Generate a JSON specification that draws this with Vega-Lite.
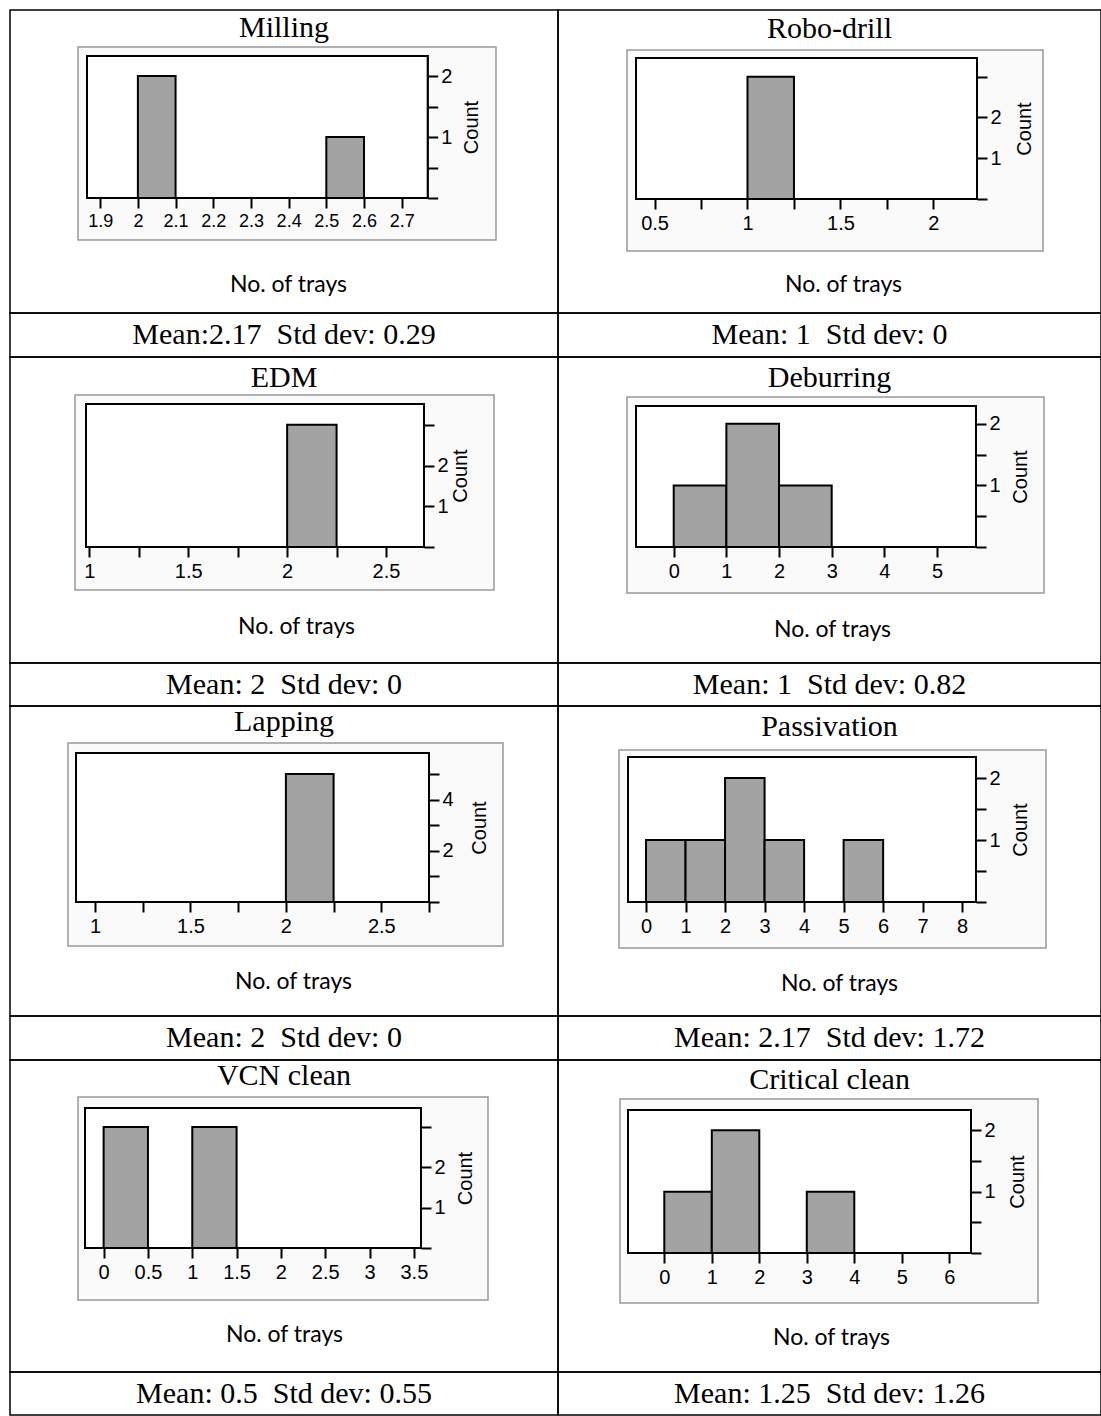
{
"$schema": "https://vega.github.io/schema/vega-lite/v6.json",
"padding": {"left": 9, "top": 9, "right": 0, "bottom": 0},
"background": "white",
"datasets": {
"bins": [
 {"panel":"Milling","lo":2,"hi":2.1,"count":2},
 {"panel":"Milling","lo":2.5,"hi":2.6,"count":1},
 {"panel":"Robo-drill","lo":1,"hi":1.25,"count":3},
 {"panel":"EDM","lo":2,"hi":2.25,"count":3},
 {"panel":"Deburring","lo":0,"hi":1,"count":1},
 {"panel":"Deburring","lo":1,"hi":2,"count":2},
 {"panel":"Deburring","lo":2,"hi":3,"count":1},
 {"panel":"Lapping","lo":2,"hi":2.25,"count":5},
 {"panel":"Passivation","lo":0,"hi":1,"count":1},
 {"panel":"Passivation","lo":1,"hi":2,"count":1},
 {"panel":"Passivation","lo":2,"hi":3,"count":2},
 {"panel":"Passivation","lo":3,"hi":4,"count":1},
 {"panel":"Passivation","lo":5,"hi":6,"count":1},
 {"panel":"VCN clean","lo":0,"hi":0.5,"count":3},
 {"panel":"VCN clean","lo":1,"hi":1.5,"count":3},
 {"panel":"Critical clean","lo":0,"hi":1,"count":1},
 {"panel":"Critical clean","lo":1,"hi":2,"count":2},
 {"panel":"Critical clean","lo":3,"hi":4,"count":1}
],
"stats": [
 {"panel":"Milling","stats":"Mean:2.17\u00a0 Std dev: 0.29"},
 {"panel":"Robo-drill","stats":"Mean: 1\u00a0 Std dev: 0"},
 {"panel":"EDM","stats":"Mean: 2\u00a0 Std dev: 0"},
 {"panel":"Deburring","stats":"Mean: 1\u00a0 Std dev: 0.82"},
 {"panel":"Lapping","stats":"Mean: 2\u00a0 Std dev: 0"},
 {"panel":"Passivation","stats":"Mean: 2.17\u00a0 Std dev: 1.72"},
 {"panel":"VCN clean","stats":"Mean: 0.5\u00a0 Std dev: 0.55"},
 {"panel":"Critical clean","stats":"Mean: 1.25\u00a0 Std dev: 1.26"}
]
},
"concat": [
   {"width":548,"height":303,"title":{"text":"Milling","offset":-33},
    "layer":[
     {"data":{"values":[{"part":"frame"}]},"mark":{"type":"rect","fill":"#fafafa","stroke":"#999999","strokeWidth":1.5},
      "encoding":{"x":{"datum":0,"type":"quantitative","scale":{"domain":[0,1],"range":[68,486]},"axis":null},"x2":{"datum":1},
       "y":{"datum":0,"type":"quantitative","scale":{"domain":[0,1],"range":[230,37]},"axis":null},"y2":{"datum":1}}},
     {"data":{"name":"bins"},"transform":[{"filter":"datum.panel == 'Milling'"}],
      "layer":[
       {"mark":{"type":"rect","fill":"white","stroke":"black","strokeWidth":2},
        "encoding":{"x":{"datum":1.865,"type":"quantitative"},"x2":{"datum":2.769},"y":{"datum":0,"type":"quantitative"},"y2":{"datum":2.33}}},
       {"mark":{"type":"bar","fill":"#a3a3a3","stroke":"black","strokeWidth":2},
        "encoding":{
         "x":{"field":"lo","type":"quantitative","scale":{"domain":[1.865,2.769],"range":[77,417.7],"nice":false,"zero":false},
          "axis":{"zindex":1,"orient":"bottom","offset":-115,"values":[1.9,2,2.1,2.2,2.3,2.4,2.5,2.6,2.7],"format":"~g","labelFontSize":18,"title":"No. of trays","titleX":278,"titleY":86}},
         "x2":{"field":"hi"},
         "y":{"field":"count","type":"quantitative","scale":{"domain":[0,2.33],"range":[188,46],"nice":false},
          "axis":{"zindex":1,"orient":"right","offset":-130.3,"values":[0,0.5,1,1.5,2],"format":"~g","labelExpr":"datum.value == 1 || datum.value == 2 ? datum.label : ''","title":"Count","titleX":44}},
         "y2":{"datum":0}}}
      ]}
    ],
    "resolve":{"scale":{"x":"independent","y":"independent"}}},
   {"width":543,"height":303,"title":{"text":"Robo-drill","offset":-34},
    "layer":[
     {"data":{"values":[{"part":"frame"}]},"mark":{"type":"rect","fill":"#fafafa","stroke":"#999999","strokeWidth":1.5},
      "encoding":{"x":{"datum":0,"type":"quantitative","scale":{"domain":[0,1],"range":[69,485]},"axis":null},"x2":{"datum":1},
       "y":{"datum":0,"type":"quantitative","scale":{"domain":[0,1],"range":[241,40]},"axis":null},"y2":{"datum":1}}},
     {"data":{"name":"bins"},"transform":[{"filter":"datum.panel == 'Robo-drill'"}],
      "layer":[
       {"mark":{"type":"rect","fill":"white","stroke":"black","strokeWidth":2},
        "encoding":{"x":{"datum":0.4,"type":"quantitative"},"x2":{"datum":2.235},"y":{"datum":0,"type":"quantitative"},"y2":{"datum":3.46}}},
       {"mark":{"type":"bar","fill":"#a3a3a3","stroke":"black","strokeWidth":2},
        "encoding":{
         "x":{"field":"lo","type":"quantitative","scale":{"domain":[0.4,2.235],"range":[78,419],"nice":false,"zero":false},
          "axis":{"zindex":1,"orient":"bottom","offset":-114,"values":[0.5,0.75,1,1.25,1.5,1.75,2],"format":"~g","labelExpr":"datum.value % 0.5 == 0 ? datum.label : ''","title":"No. of trays","titleX":285,"titleY":85}},
         "x2":{"field":"hi"},
         "y":{"field":"count","type":"quantitative","scale":{"domain":[0,3.46],"range":[189,48],"nice":false},
          "axis":{"zindex":1,"orient":"right","offset":-124,"values":[0,1,2,3],"format":"~g","labelExpr":"datum.value == 1 || datum.value == 2 ? datum.label : ''","title":"Count","titleX":47}},
         "y2":{"datum":0}}}
      ]}
    ],
    "resolve":{"scale":{"x":"independent","y":"independent"}}},
   {"width":548,"height":44,"data":{"name":"stats"},"transform":[{"filter":"datum.panel == 'Milling'"}],"mark":{"type":"text"},
    "encoding":{"x":{"datum":0.5,"type":"quantitative","scale":{"domain":[0,1]},"axis":null},"y":{"datum":0.5,"type":"quantitative","scale":{"domain":[0,1]},"axis":null},"text":{"field":"stats"}}},
   {"width":543,"height":44,"data":{"name":"stats"},"transform":[{"filter":"datum.panel == 'Robo-drill'"}],"mark":{"type":"text"},
    "encoding":{"x":{"datum":0.5,"type":"quantitative","scale":{"domain":[0,1]},"axis":null},"y":{"datum":0.5,"type":"quantitative","scale":{"domain":[0,1]},"axis":null},"text":{"field":"stats"}}},
   {"width":548,"height":306,"title":{"text":"EDM","offset":-36},
    "layer":[
     {"data":{"values":[{"part":"frame"}]},"mark":{"type":"rect","fill":"#fafafa","stroke":"#999999","strokeWidth":1.5},
      "encoding":{"x":{"datum":0,"type":"quantitative","scale":{"domain":[0,1],"range":[65,484]},"axis":null},"x2":{"datum":1},
       "y":{"datum":0,"type":"quantitative","scale":{"domain":[0,1],"range":[233,38]},"axis":null},"y2":{"datum":1}}},
     {"data":{"name":"bins"},"transform":[{"filter":"datum.panel == 'EDM'"}],
      "layer":[
       {"mark":{"type":"rect","fill":"white","stroke":"black","strokeWidth":2},
        "encoding":{"x":{"datum":0.983,"type":"quantitative"},"x2":{"datum":2.692},"y":{"datum":0,"type":"quantitative"},"y2":{"datum":3.51}}},
       {"mark":{"type":"bar","fill":"#a3a3a3","stroke":"black","strokeWidth":2},
        "encoding":{
         "x":{"field":"lo","type":"quantitative","scale":{"domain":[0.983,2.692],"range":[76,414],"nice":false,"zero":false},
          "axis":{"zindex":1,"orient":"bottom","offset":-116,"values":[1,1.25,1.5,1.75,2,2.25,2.5],"format":"~g","labelExpr":"datum.value % 0.5 == 0 ? datum.label : ''","title":"No. of trays","titleX":286,"titleY":79}},
         "x2":{"field":"hi"},
         "y":{"field":"count","type":"quantitative","scale":{"domain":[0,3.51],"range":[190,47],"nice":false},
          "axis":{"zindex":1,"orient":"right","offset":-134,"values":[0,1,2,3],"format":"~g","labelExpr":"datum.value == 1 || datum.value == 2 ? datum.label : ''","title":"Count","titleX":36}},
         "y2":{"datum":0}}}
      ]}
    ],
    "resolve":{"scale":{"x":"independent","y":"independent"}}},
   {"width":543,"height":306,"title":{"text":"Deburring","offset":-36},
    "layer":[
     {"data":{"values":[{"part":"frame"}]},"mark":{"type":"rect","fill":"#fafafa","stroke":"#999999","strokeWidth":1.5},
      "encoding":{"x":{"datum":0,"type":"quantitative","scale":{"domain":[0,1],"range":[69,486]},"axis":null},"x2":{"datum":1},
       "y":{"datum":0,"type":"quantitative","scale":{"domain":[0,1],"range":[236,40]},"axis":null},"y2":{"datum":1}}},
     {"data":{"name":"bins"},"transform":[{"filter":"datum.panel == 'Deburring'"}],
      "layer":[
       {"mark":{"type":"rect","fill":"white","stroke":"black","strokeWidth":2},
        "encoding":{"x":{"datum":-0.716,"type":"quantitative"},"x2":{"datum":5.74},"y":{"datum":0,"type":"quantitative"},"y2":{"datum":2.29}}},
       {"mark":{"type":"bar","fill":"#a3a3a3","stroke":"black","strokeWidth":2},
        "encoding":{
         "x":{"field":"lo","type":"quantitative","scale":{"domain":[-0.716,5.74],"range":[78,418],"nice":false,"zero":false},
          "axis":{"zindex":1,"orient":"bottom","offset":-116,"values":[0,1,2,3,4,5],"format":"~g","title":"No. of trays","titleX":274,"titleY":82}},
         "x2":{"field":"hi"},
         "y":{"field":"count","type":"quantitative","scale":{"domain":[0,2.29],"range":[190,49],"nice":false},
          "axis":{"zindex":1,"orient":"right","offset":-125,"values":[0,0.5,1,1.5,2],"format":"~g","labelExpr":"datum.value == 1 || datum.value == 2 ? datum.label : ''","title":"Count","titleX":44}},
         "y2":{"datum":0}}}
      ]}
    ],
    "resolve":{"scale":{"x":"independent","y":"independent"}}},
   {"width":548,"height":43,"data":{"name":"stats"},"transform":[{"filter":"datum.panel == 'EDM'"}],"mark":{"type":"text"},
    "encoding":{"x":{"datum":0.5,"type":"quantitative","scale":{"domain":[0,1]},"axis":null},"y":{"datum":0.5,"type":"quantitative","scale":{"domain":[0,1]},"axis":null},"text":{"field":"stats"}}},
   {"width":543,"height":43,"data":{"name":"stats"},"transform":[{"filter":"datum.panel == 'Deburring'"}],"mark":{"type":"text"},
    "encoding":{"x":{"datum":0.5,"type":"quantitative","scale":{"domain":[0,1]},"axis":null},"y":{"datum":0.5,"type":"quantitative","scale":{"domain":[0,1]},"axis":null},"text":{"field":"stats"}}},
   {"width":548,"height":310,"title":{"text":"Lapping","offset":-31},
    "layer":[
     {"data":{"values":[{"part":"frame"}]},"mark":{"type":"rect","fill":"#fafafa","stroke":"#999999","strokeWidth":1.5},
      "encoding":{"x":{"datum":0,"type":"quantitative","scale":{"domain":[0,1],"range":[58,493]},"axis":null},"x2":{"datum":1},
       "y":{"datum":0,"type":"quantitative","scale":{"domain":[0,1],"range":[240,37]},"axis":null},"y2":{"datum":1}}},
     {"data":{"name":"bins"},"transform":[{"filter":"datum.panel == 'Lapping'"}],
      "layer":[
       {"mark":{"type":"rect","fill":"white","stroke":"black","strokeWidth":2},
        "encoding":{"x":{"datum":0.9,"type":"quantitative"},"x2":{"datum":2.75},"y":{"datum":0,"type":"quantitative"},"y2":{"datum":5.82}}},
       {"mark":{"type":"bar","fill":"#a3a3a3","stroke":"black","strokeWidth":2},
        "encoding":{
         "x":{"field":"lo","type":"quantitative","scale":{"domain":[0.9,2.75],"range":[66,419],"nice":false,"zero":false},
          "axis":{"zindex":1,"orient":"bottom","offset":-114,"values":[1,1.25,1.5,1.75,2,2.25,2.5,2.75],"format":"~g","labelExpr":"datum.value % 0.5 == 0 ? datum.label : ''","title":"No. of trays","titleX":283,"titleY":79}},
         "x2":{"field":"hi"},
         "y":{"field":"count","type":"quantitative","scale":{"domain":[0,5.82],"range":[196,47],"nice":false},
          "axis":{"zindex":1,"orient":"right","offset":-129,"values":[0,1,2,3,4,5],"format":"~g","labelExpr":"datum.value == 2 || datum.value == 4 ? datum.label : ''","title":"Count","titleX":50}},
         "y2":{"datum":0}}}
      ]}
    ],
    "resolve":{"scale":{"x":"independent","y":"independent"}}},
   {"width":543,"height":310,"title":{"text":"Passivation","offset":-36},
    "layer":[
     {"data":{"values":[{"part":"frame"}]},"mark":{"type":"rect","fill":"#fafafa","stroke":"#999999","strokeWidth":1.5},
      "encoding":{"x":{"datum":0,"type":"quantitative","scale":{"domain":[0,1],"range":[61,488]},"axis":null},"x2":{"datum":1},
       "y":{"datum":0,"type":"quantitative","scale":{"domain":[0,1],"range":[242,44]},"axis":null},"y2":{"datum":1}}},
     {"data":{"name":"bins"},"transform":[{"filter":"datum.panel == 'Passivation'"}],
      "layer":[
       {"mark":{"type":"rect","fill":"white","stroke":"black","strokeWidth":2},
        "encoding":{"x":{"datum":-0.456,"type":"quantitative"},"x2":{"datum":8.35},"y":{"datum":0,"type":"quantitative"},"y2":{"datum":2.34}}},
       {"mark":{"type":"bar","fill":"#a3a3a3","stroke":"black","strokeWidth":2},
        "encoding":{
         "x":{"field":"lo","type":"quantitative","scale":{"domain":[-0.456,8.35],"range":[70,418],"nice":false,"zero":false},
          "axis":{"zindex":1,"orient":"bottom","offset":-114,"values":[0,1,2,3,4,5,6,7,8],"format":"~g","title":"No. of trays","titleX":281,"titleY":81}},
         "x2":{"field":"hi"},
         "y":{"field":"count","type":"quantitative","scale":{"domain":[0,2.34],"range":[196,51],"nice":false},
          "axis":{"zindex":1,"orient":"right","offset":-125,"values":[0,0.5,1,1.5,2],"format":"~g","labelExpr":"datum.value == 1 || datum.value == 2 ? datum.label : ''","title":"Count","titleX":44}},
         "y2":{"datum":0}}}
      ]}
    ],
    "resolve":{"scale":{"x":"independent","y":"independent"}}},
   {"width":548,"height":44,"data":{"name":"stats"},"transform":[{"filter":"datum.panel == 'Lapping'"}],"mark":{"type":"text"},
    "encoding":{"x":{"datum":0.5,"type":"quantitative","scale":{"domain":[0,1]},"axis":null},"y":{"datum":0.5,"type":"quantitative","scale":{"domain":[0,1]},"axis":null},"text":{"field":"stats"}}},
   {"width":543,"height":44,"data":{"name":"stats"},"transform":[{"filter":"datum.panel == 'Passivation'"}],"mark":{"type":"text"},
    "encoding":{"x":{"datum":0.5,"type":"quantitative","scale":{"domain":[0,1]},"axis":null},"y":{"datum":0.5,"type":"quantitative","scale":{"domain":[0,1]},"axis":null},"text":{"field":"stats"}}},
   {"width":548,"height":312,"title":{"text":"VCN clean","offset":-31},
    "layer":[
     {"data":{"values":[{"part":"frame"}]},"mark":{"type":"rect","fill":"#fafafa","stroke":"#999999","strokeWidth":1.5},
      "encoding":{"x":{"datum":0,"type":"quantitative","scale":{"domain":[0,1],"range":[68,478]},"axis":null},"x2":{"datum":1},
       "y":{"datum":0,"type":"quantitative","scale":{"domain":[0,1],"range":[240,37]},"axis":null},"y2":{"datum":1}}},
     {"data":{"name":"bins"},"transform":[{"filter":"datum.panel == 'VCN clean'"}],
      "layer":[
       {"mark":{"type":"rect","fill":"white","stroke":"black","strokeWidth":2},
        "encoding":{"x":{"datum":-0.21,"type":"quantitative"},"x2":{"datum":3.58},"y":{"datum":0,"type":"quantitative"},"y2":{"datum":3.47}}},
       {"mark":{"type":"bar","fill":"#a3a3a3","stroke":"black","strokeWidth":2},
        "encoding":{
         "x":{"field":"lo","type":"quantitative","scale":{"domain":[-0.21,3.58],"range":[75,411],"nice":false,"zero":false},
          "axis":{"zindex":1,"orient":"bottom","offset":-124,"values":[0,0.5,1,1.5,2,2.5,3,3.5],"format":"~g","title":"No. of trays","titleX":274,"titleY":86}},
         "x2":{"field":"hi"},
         "y":{"field":"count","type":"quantitative","scale":{"domain":[0,3.47],"range":[188,48],"nice":false},
          "axis":{"zindex":1,"orient":"right","offset":-137,"values":[0,1,2,3],"format":"~g","labelExpr":"datum.value == 1 || datum.value == 2 ? datum.label : ''","title":"Count","titleX":44}},
         "y2":{"datum":0}}}
      ]}
    ],
    "resolve":{"scale":{"x":"independent","y":"independent"}}},
   {"width":543,"height":312,"title":{"text":"Critical clean","offset":-35},
    "layer":[
     {"data":{"values":[{"part":"frame"}]},"mark":{"type":"rect","fill":"#fafafa","stroke":"#999999","strokeWidth":1.5},
      "encoding":{"x":{"datum":0,"type":"quantitative","scale":{"domain":[0,1],"range":[62,480]},"axis":null},"x2":{"datum":1},
       "y":{"datum":0,"type":"quantitative","scale":{"domain":[0,1],"range":[243,39]},"axis":null},"y2":{"datum":1}}},
     {"data":{"name":"bins"},"transform":[{"filter":"datum.panel == 'Critical clean'"}],
      "layer":[
       {"mark":{"type":"rect","fill":"white","stroke":"black","strokeWidth":2},
        "encoding":{"x":{"datum":-0.764,"type":"quantitative"},"x2":{"datum":6.457},"y":{"datum":0,"type":"quantitative"},"y2":{"datum":2.33}}},
       {"mark":{"type":"bar","fill":"#a3a3a3","stroke":"black","strokeWidth":2},
        "encoding":{
         "x":{"field":"lo","type":"quantitative","scale":{"domain":[-0.764,6.457],"range":[70,413],"nice":false,"zero":false},
          "axis":{"zindex":1,"orient":"bottom","offset":-119,"values":[0,1,2,3,4,5,6],"format":"~g","title":"No. of trays","titleX":273,"titleY":84}},
         "x2":{"field":"hi"},
         "y":{"field":"count","type":"quantitative","scale":{"domain":[0,2.33],"range":[193,50],"nice":false},
          "axis":{"zindex":1,"orient":"right","offset":-130,"values":[0,0.5,1,1.5,2],"format":"~g","labelExpr":"datum.value == 1 || datum.value == 2 ? datum.label : ''","title":"Count","titleX":46}},
         "y2":{"datum":0}}}
      ]}
    ],
    "resolve":{"scale":{"x":"independent","y":"independent"}}},
   {"width":548,"height":43,"data":{"name":"stats"},"transform":[{"filter":"datum.panel == 'VCN clean'"}],"mark":{"type":"text"},
    "encoding":{"x":{"datum":0.5,"type":"quantitative","scale":{"domain":[0,1]},"axis":null},"y":{"datum":0.5,"type":"quantitative","scale":{"domain":[0,1]},"axis":null},"text":{"field":"stats"}}},
   {"width":543,"height":43,"data":{"name":"stats"},"transform":[{"filter":"datum.panel == 'Critical clean'"}],"mark":{"type":"text"},
    "encoding":{"x":{"datum":0.5,"type":"quantitative","scale":{"domain":[0,1]},"axis":null},"y":{"datum":0.5,"type":"quantitative","scale":{"domain":[0,1]},"axis":null},"text":{"field":"stats"}}}
],
"columns": 2,
"spacing": 0,
"bounds": "flush",
"align": "each",
"config": {
 "view": {"stroke": "black", "strokeWidth": 1.5},
 "axis": {"grid": false, "domain": false, "ticks": true, "tickColor": "black", "tickWidth": 2, "labelColor": "black", "labelFont": "Liberation Sans", "labelOverlap": false, "labelFlush": false, "titleColor": "black", "titleFontWeight": "normal", "titleBaseline": "middle"},
 "axisX": {"tickSize": 10, "labelPadding": 4, "labelFontSize": 20, "titleFont": "Lato", "titleFontSize": 23},
 "axisY": {"tickSize": 10, "labelPadding": 3, "labelFontSize": 20, "labelBaseline": "middle", "titleFont": "Liberation Sans", "titleFontSize": 20, "titleAngle": 270},
 "title": {"font": "Liberation Serif", "fontSize": 30, "fontWeight": "normal", "color": "black", "anchor": "middle", "frame": "group"},
 "text": {"font": "Liberation Serif", "fontSize": 30, "color": "black"}
}
}
